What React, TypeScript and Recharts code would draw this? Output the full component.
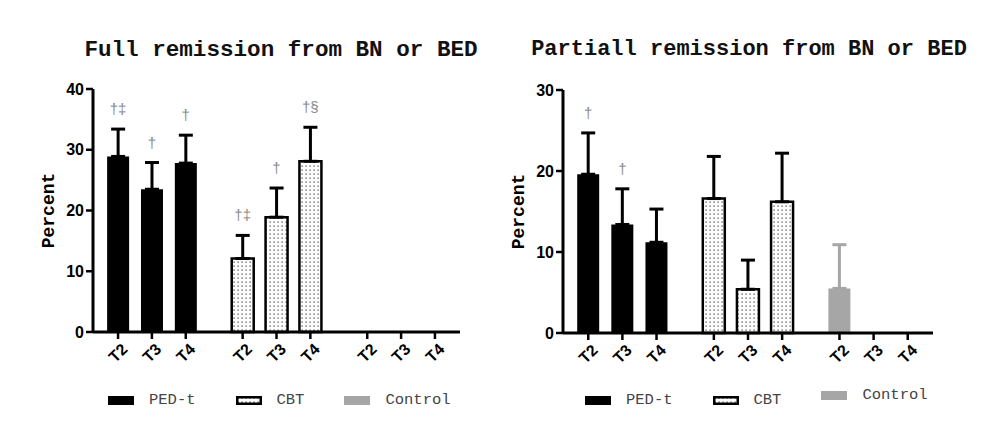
import { Bar, Cell, ComposedChart, ErrorBar, Label, Scatter, XAxis, YAxis } from "recharts"

const timepoints = ["T2", "T3", "T4"]
const groups = ["PED-t", "CBT", "Control"]

// Full remission (%), upper error
const fullPed = [28.9, 23.5, 27.8]
const fullPedErr = [4.5, 4.4, 4.6]
const fullCbt = [12.1, 18.9, 28.1]
const fullCbtErr = [3.8, 4.8, 5.6]
const fullControl = [0, 0, 0]
const fullControlErr = [0.5, 0, 0]
const fullMarks = ["†‡", "†", "†", "†‡", "†", "†§", "", "", ""]
const fullTicks = [0, 10, 20, 30, 40]

// Partial remission (%), upper error
const partialPed = [19.6, 13.4, 11.2]
const partialPedErr = [5.1, 4.4, 4.1]
const partialCbt = [16.6, 5.4, 16.2]
const partialCbtErr = [5.2, 3.6, 6.0]
const partialControl = [5.5, 0, 0]
const partialControlErr = [5.4, 0, 0]
const partialMarks = ["†", "†", "", "", "", "", "", "", ""]
const partialTicks = [0, 10, 20, 30]

const GROUP_GAP = 0.68
const groupFill = ["#000000", "url(#cbtDots)", "#a6a6a6"]
const groupStroke = ["none", "#000000", "none"]
const MONO = "'Liberation Mono', 'Courier New', monospace"
const SANS = "'Liberation Sans', Arial, sans-serif"

type Row = {
  pos: number
  time: string
  group: number
  mean: number
  err?: number[]
  ctrlErr?: number[]
  mark: string
  markAt?: number
}

const buildRows = (series: number[][], errs: number[][], marks: string[]): Row[] =>
  series.flatMap((vals, g) =>
    vals.map((v, t) => {
      const i = g * timepoints.length + t
      const e = errs[g][t]
      return {
        pos: g * (timepoints.length + GROUP_GAP) + t,
        time: timepoints[t],
        group: g,
        mean: v,
        err: g < 2 && e ? [0, e] : undefined,
        ctrlErr: g === 2 && e ? [0, e] : undefined,
        mark: marks[i],
        markAt: marks[i] ? v + e : undefined,
      }
    })
  )

const fullRows = buildRows([fullPed, fullCbt, fullControl], [fullPedErr, fullCbtErr, fullControlErr], fullMarks)
const partialRows = buildRows(
  [partialPed, partialCbt, partialControl],
  [partialPedErr, partialCbtErr, partialControlErr],
  partialMarks
)

const TimeTick = ({ x, y, payload, rows }: any) => {
  const row = rows.find((r: Row) => r.pos === payload.value)
  const cy = y + 12
  return (
    <text
      x={x}
      y={cy}
      transform={`rotate(-45 ${x} ${cy})`}
      textAnchor="middle"
      dominantBaseline="central"
      fontFamily={SANS}
      fontWeight="bold"
      fontSize={16}
      fill="#000"
    >
      {row ? row.time : ""}
    </text>
  )
}

const MarkShape = ({ cx, cy, payload }: any) => {
  if (!payload || !payload.mark) return <g />
  return (
    <text x={cx} y={cy - 15} textAnchor="middle" fontFamily={SANS} fontSize={15} fill="#888888">
      {payload.mark}
    </text>
  )
}

const PercentLabel = ({ viewBox }: any) => {
  const x = viewBox.x + 6
  const y = viewBox.y + viewBox.height / 2
  return (
    <text
      x={x}
      y={y}
      transform={`rotate(-90 ${x} ${y})`}
      textAnchor="middle"
      dominantBaseline="central"
      fontFamily={MONO}
      fontWeight="bold"
      fontSize={18}
      fill="#000"
    >
      Percent
    </text>
  )
}

type ChartProps = {
  rows: Row[]
  yTicks: number[]
  left: number
  margin: { top: number; right: number; bottom: number; left: number }
}

const RemissionChart = ({ rows, yTicks, left, margin }: ChartProps) => (
  <div style={{ position: "absolute", left, top: 0 }}>
    <ComposedChart width={480} height={436} data={rows} margin={margin}>
      <XAxis
        dataKey="pos"
        type="number"
        domain={[-0.74, 10.1]}
        ticks={rows.map((r) => r.pos)}
        interval={0}
        height={40}
        axisLine={{ stroke: "#000", strokeWidth: 3 }}
        tickLine={{ stroke: "#000", strokeWidth: 2.5 }}
        tickSize={7}
        tick={<TimeTick rows={rows} />}
      />
      <YAxis
        type="number"
        domain={[0, yTicks[yTicks.length - 1]]}
        ticks={yTicks}
        interval={0}
        width={50}
        axisLine={{ stroke: "#000", strokeWidth: 3 }}
        tickLine={{ stroke: "#000", strokeWidth: 2.5 }}
        tickSize={7}
        tickMargin={2}
        tick={{ fill: "#000", fontFamily: SANS, fontWeight: "bold", fontSize: 16 }}
      >
        <Label content={<PercentLabel />} />
      </YAxis>
      <Bar dataKey="mean" barSize={22} isAnimationActive={false}>
        {rows.map((r, i) => (
          <Cell key={i} fill={groupFill[r.group]} stroke={groupStroke[r.group]} strokeWidth={2.5} />
        ))}
        <ErrorBar dataKey="err" width={7} stroke="#000" strokeWidth={3} direction="y" />
        <ErrorBar dataKey="ctrlErr" width={7} stroke="#a6a6a6" strokeWidth={3} direction="y" />
      </Bar>
      <Scatter dataKey="markAt" shape={<MarkShape />} isAnimationActive={false} />
    </ComposedChart>
  </div>
)

const LegendSwatch = ({ group }: { group: number }) => (
  <svg width={26} height={9} style={{ display: "block" }}>
    <rect
      x={group === 1 ? 1.25 : 0}
      y={group === 1 ? 1.25 : 0}
      width={group === 1 ? 23.5 : 26}
      height={group === 1 ? 6.5 : 9}
      fill={groupFill[group]}
      stroke={groupStroke[group]}
      strokeWidth={2.5}
    />
  </svg>
)

const GroupLegend = ({ left, top, lifts }: { left: number; top: number; lifts: number[] }) => (
  <div style={{ position: "absolute", left, top, display: "flex", alignItems: "center", gap: 40 }}>
    {groups.map((g, i) => (
      <div key={g} style={{ display: "flex", alignItems: "center", position: "relative", top: -lifts[i] }}>
        <LegendSwatch group={i} />
        <span style={{ marginLeft: 15, fontFamily: MONO, fontSize: 15.5, color: "#444", lineHeight: "18px" }}>
          {g}
        </span>
      </div>
    ))}
  </div>
)

const titleStyle = (center: number, size: number): React.CSSProperties => ({
  position: "absolute",
  left: center - 240,
  width: 480,
  top: 37,
  textAlign: "center",
  fontFamily: MONO,
  fontWeight: "bold",
  fontSize: size,
  color: "#111",
  lineHeight: "26px",
  whiteSpace: "nowrap",
})

export default function App() {
  return (
    <div style={{ position: "absolute", left: 0, top: 0, width: 987, height: 436, background: "#fff", overflow: "hidden" }}>
      <svg width={0} height={0} style={{ position: "absolute" }}>
        <defs>
          <pattern id="cbtDots" width={4} height={4} patternUnits="userSpaceOnUse">
            <rect width={4} height={4} fill="#fff" />
            <rect x={1.5} y={1.5} width={1.2} height={1.2} fill="#333" />
          </pattern>
        </defs>
      </svg>
      <div style={titleStyle(281, 22.6)}>Full remission from BN or BED</div>
      <div style={titleStyle(749, 22)}>Partiall remission from BN or BED</div>
      <RemissionChart rows={fullRows} yTicks={fullTicks} left={0} margin={{ top: 89, right: 20, bottom: 64, left: 43 }} />
      <RemissionChart
        rows={partialRows}
        yTicks={partialTicks}
        left={480}
        margin={{ top: 90, right: 27, bottom: 63, left: 33 }}
      />
      <GroupLegend left={108} top={391} lifts={[0, 0, 0]} />
      <GroupLegend left={585} top={391} lifts={[0, 0, 5]} />
    </div>
  )
}
